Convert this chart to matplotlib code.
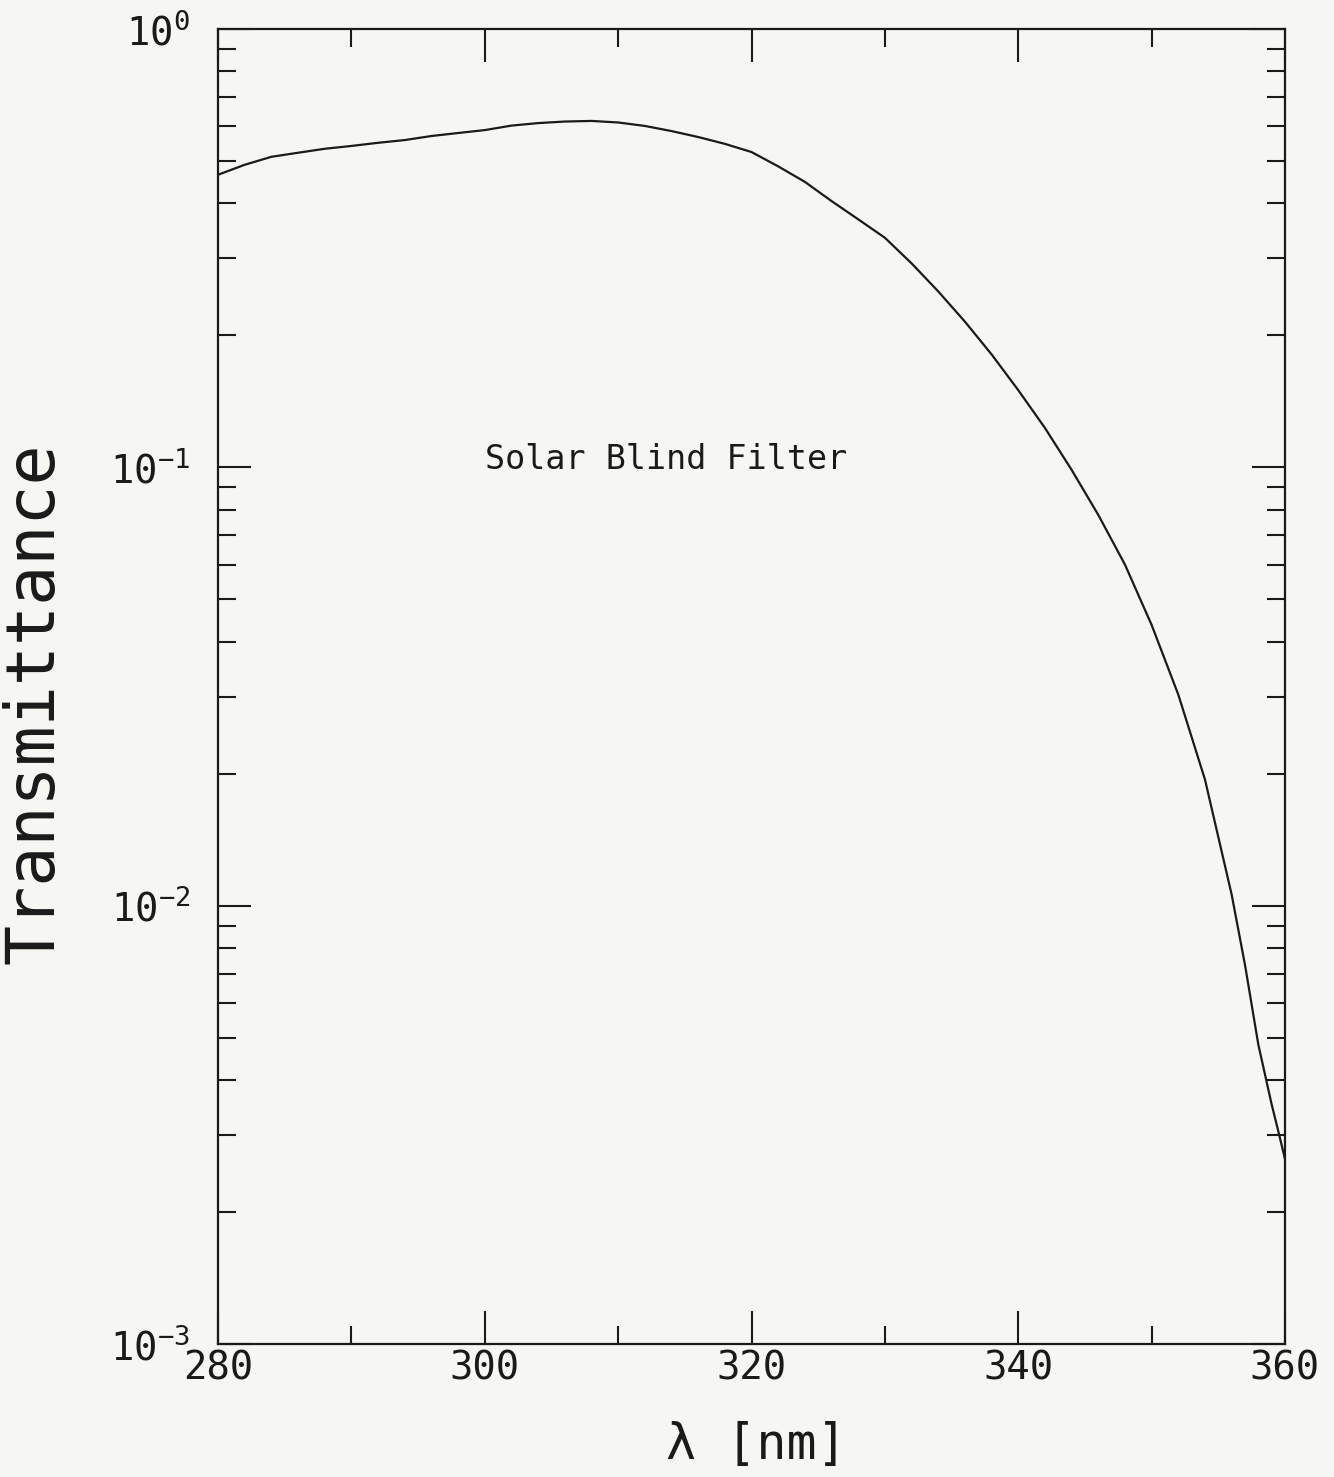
"""
Solar blind filter transmittance vs wavelength (log scale).
"""

import numpy as np
import matplotlib
matplotlib.use("Agg")
import matplotlib.pyplot as plt
from matplotlib.ticker import FixedLocator, NullFormatter

# ── Data ───────────────────────────────────────────────────────────────────────

wavelength_nm = [280, 282, 284, 286, 288, 290, 292, 294, 296, 298,
                 300, 302, 304, 306, 308, 310, 312, 314, 316, 318,
                 320, 322, 324, 326, 328, 330, 332, 334, 336, 338,
                 340, 342, 344, 346, 348, 350, 352, 354, 356, 357,
                 358, 359, 359.6, 360]
transmittance = [0.465, 0.490, 0.511, 0.522, 0.533, 0.541, 0.550, 0.558, 0.570, 0.579,
                 0.588, 0.602, 0.610, 0.615, 0.617, 0.612, 0.601, 0.585, 0.567, 0.547,
                 0.524, 0.486, 0.448, 0.405, 0.368, 0.334, 0.292, 0.252, 0.215, 0.181,
                 0.150, 0.123, 0.0987, 0.0779, 0.0600, 0.0437, 0.0303, 0.0194, 0.0106, 0.00733,
                 0.00482, 0.00352, 0.00297, 0.00264]

x_major = [280, 300, 320, 340, 360]
x_minor = [290, 310, 330, 350]
y_major = [1e-3, 1e-2, 1e-1, 1e0]
y_major_labels = [r"$\mathregular{10^{-3}}$", r"$\mathregular{10^{-2}}$",
                  r"$\mathregular{10^{-1}}$", r"$\mathregular{10^{0}}$"]

TITLE = "Solar Blind Filter"
BG = "#f6f6f2"
INK = "#1a1a1a"
FONT = ["DejaVu Sans Mono"]

# ── Plot ───────────────────────────────────────────────────────────────────────

plt.rcParams["font.family"] = FONT
plt.rcParams["mathtext.fontset"] = "custom"
plt.rcParams["mathtext.rm"] = "DejaVu Sans Mono"

fig = plt.figure(figsize=(13.34, 14.77), dpi=100)
fig.patch.set_facecolor(BG)
ax = fig.add_axes([218 / 1334, 1 - 1344 / 1477, (1285 - 218) / 1334, (1344 - 29) / 1477])
ax.set_facecolor(BG)

ax.plot(wavelength_nm, transmittance, color=INK, linewidth=1.6)

ax.set_yscale("log")
ax.set_xlim(280, 360)
ax.set_ylim(1e-3, 1e0)

ax.xaxis.set_major_locator(FixedLocator(x_major))
ax.xaxis.set_minor_locator(FixedLocator(x_minor))
ax.xaxis.set_minor_formatter(NullFormatter())
ax.set_xticklabels([str(v) for v in x_major])

minor_y = [m * d for d in (1e-3, 1e-2, 1e-1) for m in range(2, 10)]
ax.yaxis.set_major_locator(FixedLocator(y_major))
ax.yaxis.set_minor_locator(FixedLocator(minor_y))
ax.yaxis.set_minor_formatter(NullFormatter())
ax.set_yticklabels(y_major_labels)

ax.tick_params(axis="both", which="major", direction="in", top=True, right=True,
               length=24, width=1.5, color=INK)
ax.tick_params(axis="both", which="minor", direction="in", top=True, right=True,
               length=13, width=1.5, color=INK)
ax.tick_params(axis="x", which="major", labelsize=28, pad=4, labelcolor=INK)
ax.tick_params(axis="y", which="major", labelsize=28, pad=20, labelcolor=INK)

for spine in ax.spines.values():
    spine.set_linewidth(1.6)
    spine.set_edgecolor(INK)

ax.text(300, 0.104, TITLE, fontsize=24, ha="left", va="center", color=INK)

fig.text(35 / 1334, 1 - 703 / 1477, "Transmittance", rotation=90,
         ha="center", va="center", fontsize=48, color=INK)
fig.text(756 / 1334, 1 - 1445 / 1477, "λ [nm]",
         ha="center", va="center", fontsize=36, color=INK)

fig.savefig("out.png", dpi=100, facecolor=BG)
